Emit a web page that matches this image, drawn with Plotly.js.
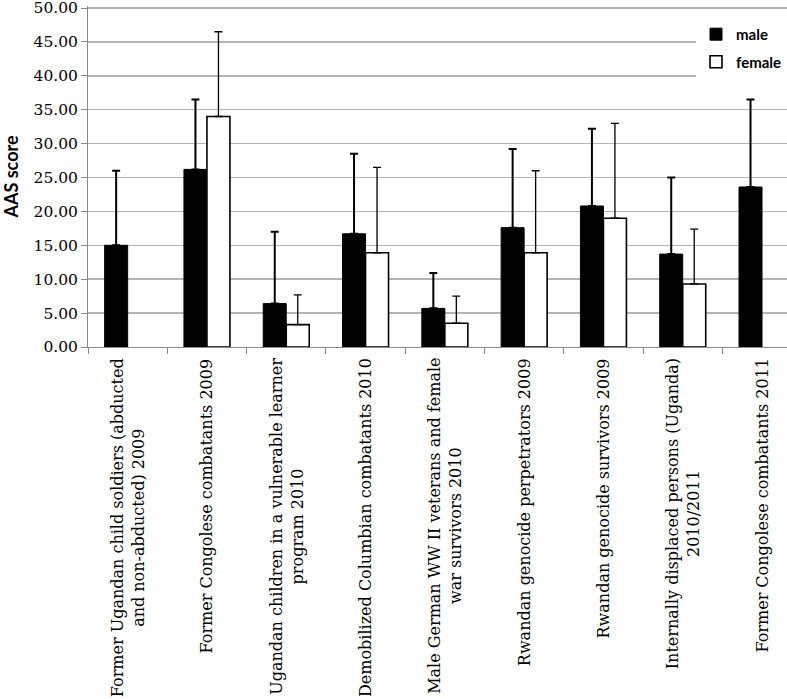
<!DOCTYPE html>
<html>
<head>
<meta charset="utf-8">
<script src="https://cdn.plot.ly/plotly-3.0.1.min.js"></script>
<style>html,body{margin:0;padding:0;background:#fff;}#chart{width:787px;height:699px;}</style>
</head>
<body>
<div id="chart"></div>
<script>
const categories = [
  "Former Ugandan child soldiers (abducted<br>and non-abducted) 2009",
  "Former Congolese combatants 2009",
  "Ugandan children in a vulnerable learner<br>program 2010",
  "Demobilized Columbian combatants 2010",
  "Male German WW II veterans and female<br>war survivors 2010",
  "Rwandan genocide perpetrators 2009",
  "Rwandan genocide survivors 2009",
  "Internally displaced persons (Uganda)<br>2010/2011",
  "Former Congolese combatants 2011"
];
const maleMean   = [15.0, 26.2, 6.4, 16.7, 5.7, 17.6, 20.8, 13.7, 23.6];
const maleSD     = [11.0, 10.3, 10.6, 11.8, 5.2, 11.6, 11.4, 11.3, 12.9];
const femaleMean = [null, 34.0, 3.3, 13.9, 3.5, 13.9, 19.0, 9.3, null];
const femaleSD   = [null, 12.5, 4.4, 12.6, 4.0, 12.1, 14.0, 8.1, null];
const yTicks = [0, 5, 10, 15, 20, 25, 30, 35, 40, 45, 50];

const zeros = categories.map(() => 0);

const traces = [
  {
    type: 'bar', name: 'male', x: categories, y: maleMean,
    legendgroup: 'm',
    marker: {color: '#000000', line: {color: '#000000', width: 1}},
    error_y: {type: 'data', symmetric: false, array: maleSD, arrayminus: zeros,
              color: '#000000', thickness: 2, width: 4}
  },
  {
    type: 'bar', name: 'female', x: categories, y: femaleMean,
    legendgroup: 'f',
    marker: {color: '#ffffff', line: {color: '#000000', width: 1.6}},
    error_y: {type: 'data', symmetric: false, array: femaleSD, arrayminus: zeros,
              color: '#000000', thickness: 1.3, width: 4}
  }
];

const annotations = categories.map(c => ({
  x: c, xref: 'x', y: 0, yref: 'y',
  text: c, showarrow: false, textangle: -90,
  xanchor: 'center', yanchor: 'top', yshift: -9, align: 'center',
  font: {family: 'DejaVu Serif', size: 16, color: '#000'}
}));

const layout = {
  width: 787, height: 699,
  margin: {l: 88, r: 0, t: 6, b: 352},
  paper_bgcolor: '#ffffff', plot_bgcolor: '#ffffff',
  barmode: 'group', bargap: 0.42, bargroupgap: 0,
  showlegend: true,
  legend: {
    x: 1, xanchor: 'right', y: 0.965, yanchor: 'top',
    bgcolor: '#ffffff', traceorder: 'grouped', tracegroupgap: 5,
    font: {family: 'Lato', size: 15, color: '#000', weight: 'bold'}
  },
  xaxis: {
    type: 'category', range: [-0.5, 8.315],
    showticklabels: false, ticks: 'outside', tickson: 'boundaries',
    ticklen: 6, tickcolor: '#888888', tickwidth: 1,
    showline: true, linecolor: '#888888', linewidth: 1,
    showgrid: false, zeroline: false, fixedrange: true
  },
  yaxis: {
    range: [0, 50.3], tickmode: 'array', tickvals: yTicks, tickformat: '.2f',
    ticklabeloverflow: 'allow', automargin: false,
    ticks: 'outside', ticklen: 6, tickcolor: '#888888', tickwidth: 1,
    showline: true, linecolor: '#888888', linewidth: 1,
    showgrid: true, gridcolor: '#b4b4b4', gridwidth: 1.5, zeroline: false,
    tickfont: {family: 'DejaVu Serif', size: 15.5, color: '#000'},
    title: {text: 'AAS score', standoff: 19,
            font: {family: 'Lato', size: 18, color: '#000', weight: 'bold'}},
    fixedrange: true
  },
  annotations: annotations
};

Plotly.newPlot('chart', traces, layout, {staticPlot: true, displayModeBar: false});
</script>
</body>
</html>
